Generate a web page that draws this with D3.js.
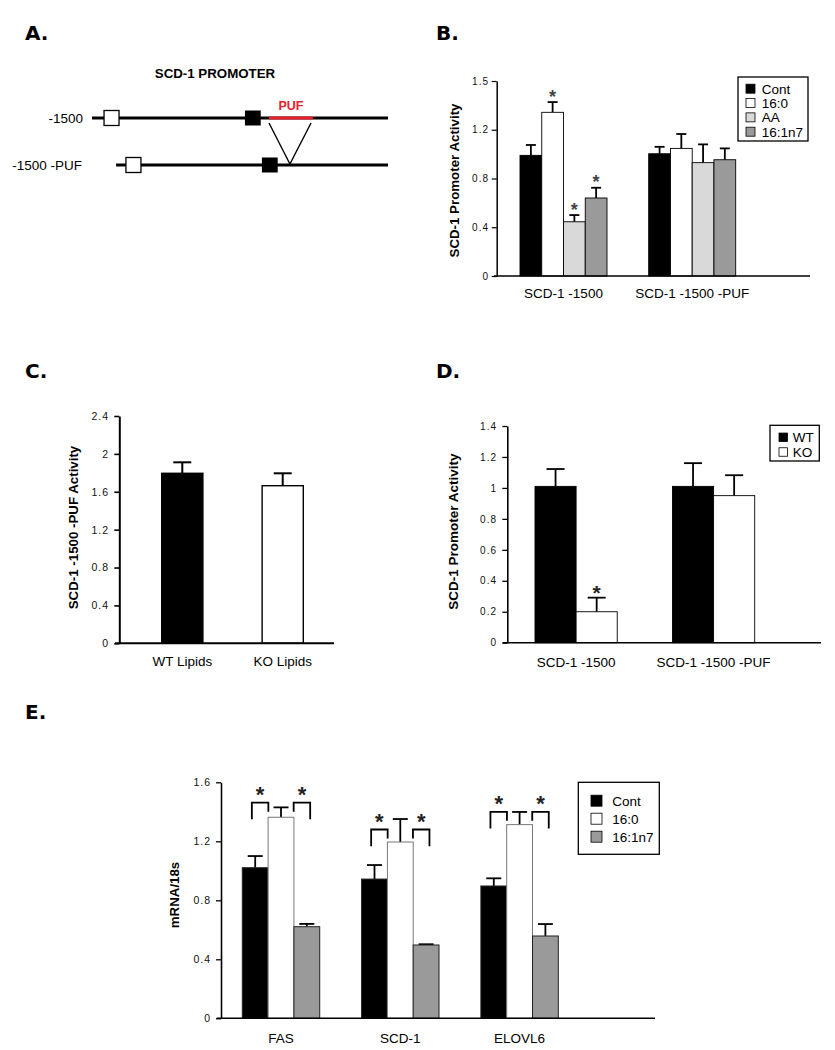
<!DOCTYPE html>
<html><head><meta charset="utf-8">
<script src="https://cdn.jsdelivr.net/npm/d3@7"></script>
<style>
body{margin:0;background:#fff}
svg{display:block;font-family:"Liberation Sans",Arial,Helvetica,sans-serif}
</style>
</head><body>
<svg id="fig" width="835" height="1050"></svg>
<script>
// ---------------- DATA ----------------
// Panel A: promoter constructs (positions in bp relative to TSS)
const promoterConstructs = ["-1500", "-1500 -PUF"];
const constructStart = [-1500, -1378];
const openBoxStart = [-1439, -1328];
const blackBoxStart = [-725, -639];
const pufRegion = [-603, -380];
const deletionPoint = -497;

// Panel B
const panelB_categories = ["SCD-1 -1500", "SCD-1 -1500 -PUF"];
const panelB_series = ["Cont", "16:0", "AA", "16:1n7"];
const panelB_values = [[0.99, 1.343, 0.445, 0.64], [1.003, 1.047, 0.93, 0.954]];
const panelB_errors = [[0.085, 0.084, 0.055, 0.084], [0.057, 0.118, 0.15, 0.093]];
const panelB_significant = [[false, true, true, true], [false, false, false, false]];
const panelB_tickValues = [0, 0.4, 0.8, 1.2, 1.6];
const panelB_tickLabels = ["0", "0.4", "0.8", "1.2", "1.5"];

// Panel C
const panelC_categories = ["WT Lipids", "KO Lipids"];
const panelC_values = [1.795, 1.664];
const panelC_errors = [0.116, 0.131];
const panelC_tickValues = [0, 0.4, 0.8, 1.2, 1.6, 2, 2.4];

// Panel D
const panelD_categories = ["SCD-1 -1500", "SCD-1 -1500 -PUF"];
const panelD_series = ["WT", "KO"];
const panelD_values = [[1.01, 0.2], [1.01, 0.95]];
const panelD_errors = [[0.112, 0.091], [0.15, 0.132]];
const panelD_significant = [[false, true], [false, false]];
const panelD_tickValues = [0, 0.2, 0.4, 0.6, 0.8, 1, 1.2, 1.4];

// Panel E
const panelE_categories = ["FAS", "SCD-1", "ELOVL6"];
const panelE_series = ["Cont", "16:0", "16:1n7"];
const panelE_values = [[1.021, 1.363, 0.621], [0.944, 1.195, 0.497], [0.897, 1.313, 0.558]];
const panelE_errors = [[0.079, 0.067, 0.019], [0.095, 0.156, 0.005], [0.052, 0.086, 0.081]];
const panelE_bracketTop = [1.462, 1.28, 1.40];
const panelE_tickValues = [0, 0.4, 0.8, 1.2, 1.6];

// ---------------- STYLE ----------------
const colorsB = {"Cont": "#000000", "16:0": "#ffffff", "AA": "#d9d9d9", "16:1n7": "#9a9a9a"};
const colorsD = {"WT": "#000000", "KO": "#ffffff"};
const colorsE = {"Cont": "#000000", "16:0": "#ffffff", "16:1n7": "#9a9a9a"};

const svg = d3.select("#fig");

function panelLetter(txt, x, y) {
  svg.append("text").attr("x", x).attr("y", y).attr("font-size", 20).attr("font-weight", "bold")
    .attr("font-family", "'DejaVu Sans',sans-serif").text(txt);
}

function yAxis(g, y, axisX, tickValues, labels, fs, labelRight, stroke) {
  const ax = d3.axisLeft(y).tickValues(tickValues).tickSize(5).tickSizeOuter(0)
    .tickPadding(axisX - 5 - labelRight)
    .tickFormat((d, i) => labels ? labels[i] : String(d));
  const a = g.append("g").attr("transform", `translate(${axisX},0)`).call(ax);
  a.select(".domain").attr("stroke", "#000").attr("stroke-width", stroke);
  a.selectAll(".tick line").attr("stroke", "#000").attr("stroke-width", stroke * 0.8);
  a.selectAll(".tick text").attr("font-size", fs).attr("fill", "#111")
    .attr("font-family", "'Liberation Sans',Arial,sans-serif").attr("letter-spacing", 1);
  return a;
}

function xAxis(g, x, y0, x1, x2, fs, baselineOffset, stroke) {
  g.append("line").attr("x1", x1).attr("x2", x2).attr("y1", y0).attr("y2", y0)
    .attr("stroke", "#000").attr("stroke-width", stroke);
  const ax = d3.axisBottom(x).tickSize(0).tickPadding(baselineOffset - 0.71 * fs);
  const a = g.append("g").attr("transform", `translate(0,${y0})`).call(ax);
  a.select(".domain").remove();
  a.selectAll(".tick text").attr("font-size", fs).attr("fill", "#000")
    .attr("font-family", "'Liberation Sans',Arial,sans-serif");
}

function yLabel(g, txt, xBase, yc, fs) {
  g.append("text").attr("transform", `translate(${xBase},${yc}) rotate(-90)`)
    .attr("text-anchor", "middle").attr("font-size", fs).attr("font-weight", "bold").text(txt);
}

function errBar(g, cx, yTop, yBot, cap, sw) {
  g.append("line").attr("x1", cx).attr("x2", cx).attr("y1", yBot).attr("y2", yTop)
    .attr("stroke", "#000").attr("stroke-width", sw);
  g.append("line").attr("x1", cx - cap / 2).attr("x2", cx + cap / 2).attr("y1", yTop).attr("y2", yTop)
    .attr("stroke", "#000").attr("stroke-width", sw);
}

function star(g, cx, cy, fs, color) {
  g.append("text").attr("x", cx).attr("y", cy + 0.58 * fs).attr("text-anchor", "middle")
    .attr("font-size", fs).attr("font-weight", "bold").attr("fill", color).text("*");
}

function legend(g, series, colors, box, x0, rows, sw, textX, fs) {
  g.append("rect").attr("x", box[0]).attr("y", box[1]).attr("width", box[2] - box[0]).attr("height", box[3] - box[1])
    .attr("fill", "#fff").attr("stroke", "#000").attr("stroke-width", 1.3);
  const ry = d3.scalePoint().domain(series).range(rows);
  series.forEach(s => {
    g.append("rect").attr("x", x0).attr("y", ry(s) - sw / 2).attr("width", sw).attr("height", sw)
      .attr("fill", colors[s]).attr("stroke", "#000").attr("stroke-width", 0.8);
    g.append("text").attr("x", textX).attr("y", ry(s) + 0.36 * fs).attr("font-size", fs).text(s);
  });
}

// ---------------- PANEL A ----------------
panelLetter("A.", 25, 40);
const gA = svg.append("g");
const xA = d3.scaleLinear().domain([-1500, 0]).range([92, 388]);
const yA = d3.scalePoint().domain(promoterConstructs).range([118, 165]);
const boxBp = 76, blackBp = 80, boxH = 15;
gA.append("text").attr("x", 215).attr("y", 78).attr("text-anchor", "middle")
  .attr("font-size", 13.3).attr("font-weight", "bold").text("SCD-1 PROMOTER");
promoterConstructs.forEach((c, i) => {
  const y = yA(c);
  gA.append("line").attr("x1", xA(constructStart[i])).attr("x2", xA(0)).attr("y1", y).attr("y2", y)
    .attr("stroke", "#000").attr("stroke-width", 3);
  gA.append("text").attr("x", i === 0 ? 83 : 82).attr("y", y + 5).attr("text-anchor", "end")
    .attr("font-size", 13.5).text(c);
  gA.append("rect").attr("x", xA(openBoxStart[i])).attr("y", y - boxH / 2)
    .attr("width", xA(openBoxStart[i] + boxBp) - xA(openBoxStart[i])).attr("height", boxH)
    .attr("fill", "#fff").attr("stroke", "#000").attr("stroke-width", 1.3);
  gA.append("rect").attr("x", xA(blackBoxStart[i])).attr("y", y - boxH / 2)
    .attr("width", xA(blackBoxStart[i] + blackBp) - xA(blackBoxStart[i])).attr("height", boxH)
    .attr("fill", "#000");
});
const y1A = yA(promoterConstructs[0]), y2A = yA(promoterConstructs[1]);
gA.append("line").attr("x1", xA(pufRegion[0])).attr("x2", xA(pufRegion[1])).attr("y1", y1A).attr("y2", y1A)
  .attr("stroke", "#e8202a").attr("stroke-width", 3);
gA.append("text").attr("x", (xA(pufRegion[0]) + xA(pufRegion[1])) / 2).attr("y", 110).attr("text-anchor", "middle")
  .attr("font-size", 12.5).attr("font-weight", "bold").attr("fill", "#e8202a").text("PUF");
gA.append("path")
  .attr("d", `M${xA(pufRegion[0])},${y1A + 5} L${xA(deletionPoint)},${y2A - 1} L${xA(pufRegion[1]) - 2},${y1A + 5}`)
  .attr("fill", "none").attr("stroke", "#000").attr("stroke-width", 1.4);

// ---------------- PANEL B ----------------
panelLetter("B.", 436, 40);
const gB = svg.append("g");
const yB = d3.scaleLinear().domain([0, 1.6]).range([276, 81]);
const x0B = d3.scaleBand().domain(panelB_categories).range([520, 735.7]).paddingInner(0.324).paddingOuter(0);
const x1B = d3.scaleBand().domain(panelB_series).range([0, x0B.bandwidth()]);
panelB_categories.forEach((c, i) => {
  panelB_series.forEach((s, j) => {
    const v = panelB_values[i][j], e = panelB_errors[i][j];
    const bx = x0B(c) + x1B(s), cx = bx + x1B.bandwidth() / 2;
    errBar(gB, cx, yB(v + e), yB(v), 10, 1.8);
    gB.append("rect").attr("x", bx).attr("y", yB(v)).attr("width", x1B.bandwidth()).attr("height", yB(0) - yB(v))
      .attr("fill", colorsB[s]).attr("stroke", "#000").attr("stroke-width", 0.9);
    if (panelB_significant[i][j]) star(gB, cx, yB(v + e) - 10, 18, "#444");
  });
});
yAxis(gB, yB, 496.7, panelB_tickValues, panelB_tickLabels, 10, 489, 1.5);
xAxis(gB, x0B, yB(0), 494, 810, 13.5, 22, 1.5);
yLabel(gB, "SCD-1 Promoter Activity", 458.5, 180.5, 13.3);
legend(gB, panelB_series, colorsB, [738, 77, 808, 141], 746, [88.7, 131.7], 9, 761.7, 13.5);

// ---------------- PANEL C ----------------
panelLetter("C.", 25, 378);
const gC = svg.append("g");
const yC = d3.scaleLinear().domain([0, 2.4]).range([643.3, 416]);
const xC = d3.scaleBand().domain(panelC_categories).range([161.7, 303.3]).paddingInner(0.59).paddingOuter(0);
const colorsC = ["#000", "#fff"];
panelC_categories.forEach((c, i) => {
  const v = panelC_values[i], e = panelC_errors[i];
  const cx = xC(c) + xC.bandwidth() / 2;
  errBar(gC, cx, yC(v + e), yC(v), 18, 2);
  gC.append("rect").attr("x", xC(c)).attr("y", yC(v)).attr("width", xC.bandwidth()).attr("height", yC(0) - yC(v))
    .attr("fill", colorsC[i]).attr("stroke", "#000").attr("stroke-width", 1.4);
});
yAxis(gC, yC, 119.3, panelC_tickValues, null, 10.5, 109, 2);
xAxis(gC, xC, yC(0), 115, 334, 13.5, 23.2, 2);
yLabel(gC, "SCD-1 -1500 -PUF Activity", 77.5, 527.5, 13.3);

// ---------------- PANEL D ----------------
panelLetter("D.", 436, 378);
const gD = svg.append("g");
const yD = d3.scaleLinear().domain([0, 1.4]).range([642.7, 426]);
const x0D = d3.scaleBand().domain(panelD_categories).range([535, 754.7]).paddingInner(0.402).paddingOuter(0);
const x1D = d3.scaleBand().domain(panelD_series).range([0, x0D.bandwidth()]);
panelD_categories.forEach((c, i) => {
  panelD_series.forEach((s, j) => {
    const v = panelD_values[i][j], e = panelD_errors[i][j];
    const bx = x0D(c) + x1D(s), cx = bx + x1D.bandwidth() / 2;
    errBar(gD, cx, yD(v + e), yD(v), 18, 1.8);
    gD.append("rect").attr("x", bx).attr("y", yD(v)).attr("width", x1D.bandwidth()).attr("height", yD(0) - yD(v))
      .attr("fill", colorsD[s]).attr("stroke", "#000").attr("stroke-width", 0.9);
    if (panelD_significant[i][j]) star(gD, cx, yD(v + e) - 10, 21, "#222");
  });
});
yAxis(gD, yD, 507.3, panelD_tickValues, null, 10, 497, 1.6);
xAxis(gD, x0D, yD(0), 502.7, 821, 13.5, 24.3, 1.6);
yLabel(gD, "SCD-1 Promoter Activity", 457.5, 531.7, 13.5);
legend(gD, panelD_series, colorsD, [770, 425.3, 819.3, 461], 779, [437.3, 452], 8.5, 792.7, 13.5);

// ---------------- PANEL E ----------------
panelLetter("E.", 25, 719);
const gE = svg.append("g");
const yE = d3.scaleLinear().domain([0, 1.6]).range([1018.3, 782.3]);
const x0E = d3.scaleBand().domain(panelE_categories).range([242.3, 558.3]).paddingInner(0.351).paddingOuter(0);
const x1E = d3.scaleBand().domain(panelE_series).range([0, x0E.bandwidth()]);
panelE_categories.forEach((c, i) => {
  panelE_series.forEach((s, j) => {
    const v = panelE_values[i][j], e = panelE_errors[i][j];
    const bx = x0E(c) + x1E(s), cx = bx + x1E.bandwidth() / 2;
    errBar(gE, cx, yE(v + e), yE(v), 15, 1.8);
    gE.append("rect").attr("x", bx).attr("y", yE(v)).attr("width", x1E.bandwidth()).attr("height", yE(0) - yE(v))
      .attr("fill", colorsE[s]).attr("stroke", s === "16:0" ? "#777" : "#222").attr("stroke-width", 1);
  });
  // significance brackets around the 16:0 bar
  const bw = x1E.bandwidth();
  const c16 = x0E(c) + x1E("16:0") + bw / 2;
  const top = yE(panelE_bracketTop[i]);
  [-1, 1].forEach(side => {
    const outer = c16 + side * 1.13 * bw, inner = c16 + side * 0.49 * bw;
    gE.append("path")
      .attr("d", `M${outer},${top + 16.7} L${outer},${top} L${inner},${top} L${inner},${top + 9}`)
      .attr("fill", "none").attr("stroke", "#000").attr("stroke-width", 1.8);
    star(gE, (outer + inner) / 2, top - 13.5, 22, "#222");
  });
});
yAxis(gE, yE, 221, panelE_tickValues, null, 10.5, 211, 1.6);
xAxis(gE, x0E, yE(0), 216.7, 655, 13.5, 24.4, 1.6);
yLabel(gE, "mRNA/18s", 179, 895, 13.3);
legend(gE, panelE_series, colorsE, [578.3, 782.3, 659.3, 854.3], 591, [800.7, 836.7], 11, 612.3, 13.5);
</script>
</body></html>
